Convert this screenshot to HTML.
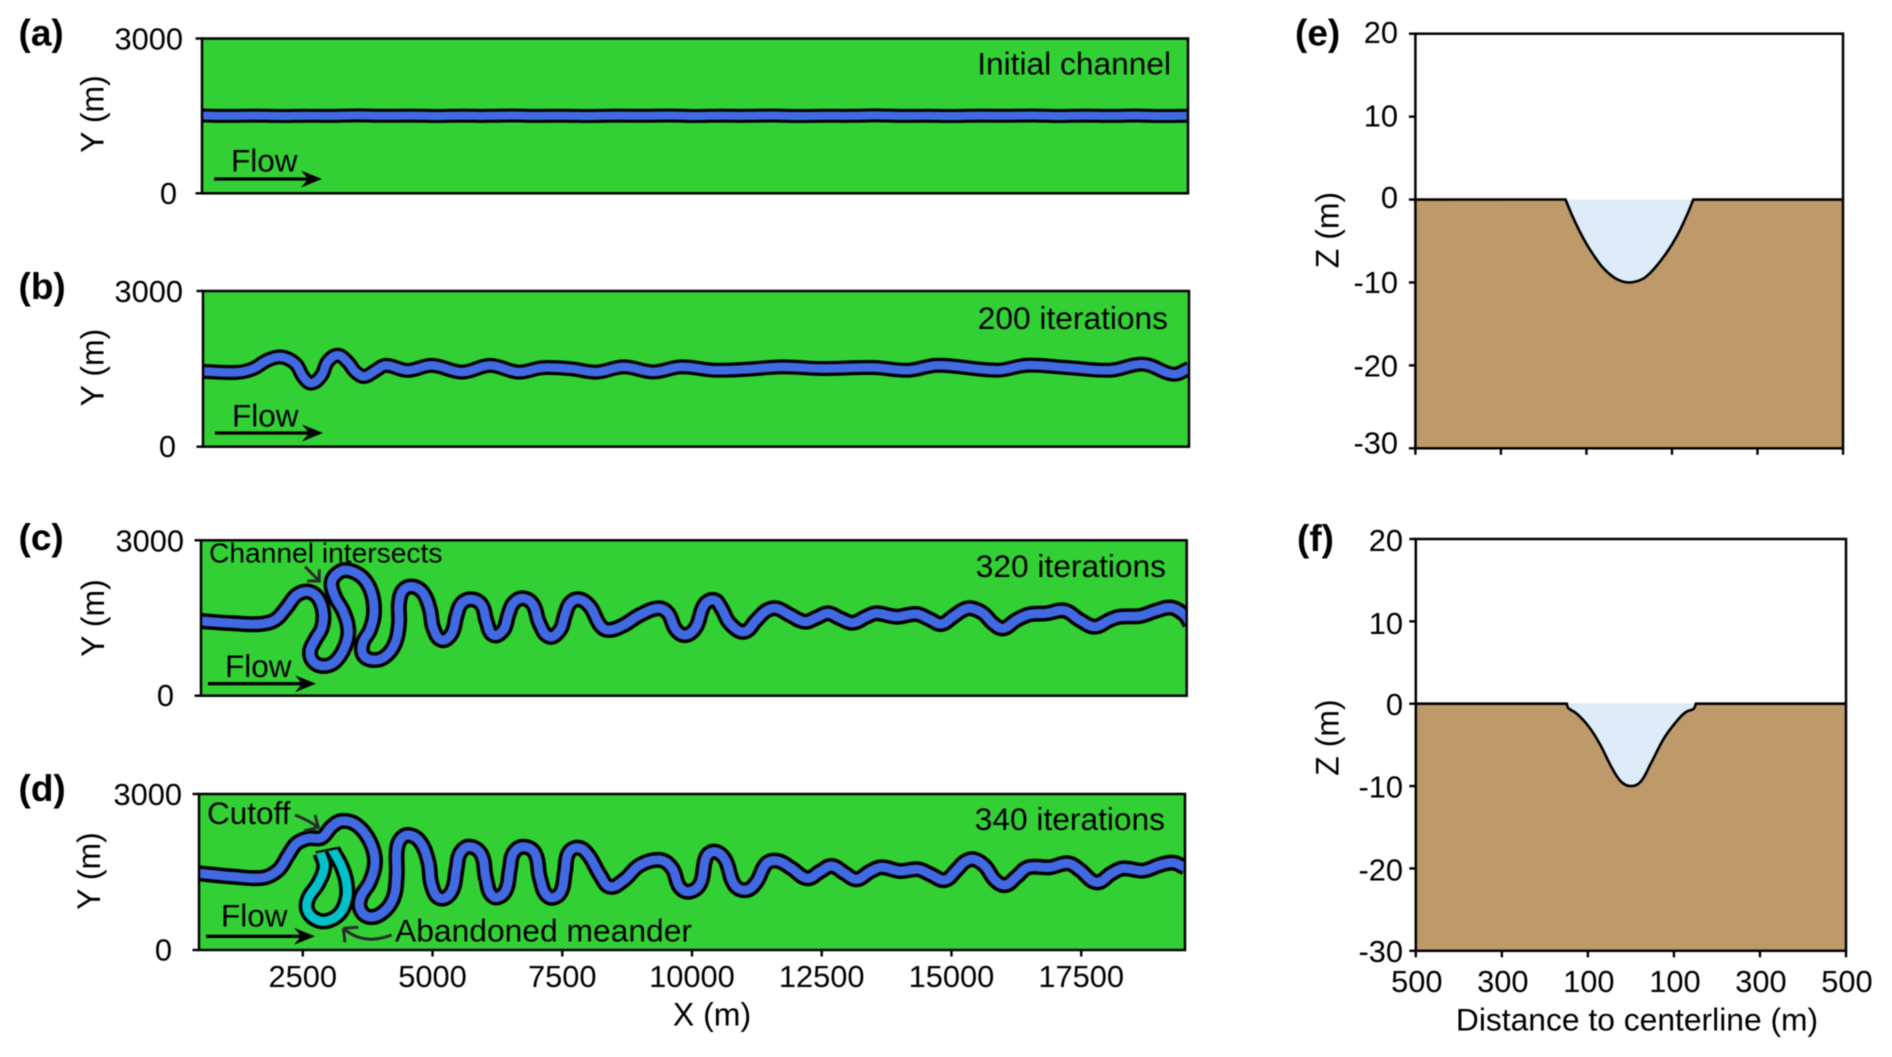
<!DOCTYPE html>
<html lang="en">
<head>
<meta charset="utf-8">
<title>Channel evolution and cross-section profiles</title>
<style>
html,body{margin:0;padding:0;background:#fff;width:1892px;height:1057px;overflow:hidden}
svg{display:block;filter:blur(0.5px)}
text{font-family:"Liberation Sans",Arial,sans-serif;fill:#000}
</style>
</head>
<body>
<svg id="chart" xmlns="http://www.w3.org/2000/svg" width="1892" height="1057" viewBox="0 0 1892 1057">
<defs>
<clipPath id="clip-a"><rect x="202" y="38.5" width="986" height="154.8"/></clipPath>
<clipPath id="clip-b"><rect x="203" y="291" width="986" height="155.7"/></clipPath>
<clipPath id="clip-c"><rect x="201" y="540.3" width="985.7" height="155.4"/></clipPath>
<clipPath id="clip-d"><rect x="199" y="794" width="986" height="156"/></clipPath>
</defs>
<g id="plots"></g>
<g id="notes">
<text x="18.5" y="45.7" font-size="37" font-weight="700">(a)</text>
<text x="18.5" y="299" font-size="37" font-weight="700">(b)</text>
<text x="18.5" y="550" font-size="37" font-weight="700">(c)</text>
<text x="18.5" y="801" font-size="37" font-weight="700">(d)</text>
<text x="1295" y="45.7" font-size="37" font-weight="700">(e)</text>
<text x="1297" y="551" font-size="37" font-weight="700">(f)</text>

<text x="1171" y="74.5" font-size="31.7" text-anchor="end">Initial channel</text>
<text x="1168" y="329" font-size="31.7" text-anchor="end">200 iterations</text>
<text x="1166" y="577" font-size="31.7" text-anchor="end">320 iterations</text>
<text x="1165" y="830" font-size="31.7" text-anchor="end">340 iterations</text>

<text x="231" y="171.7" font-size="31.5">Flow</text>
<text x="232" y="426.7" font-size="31.5">Flow</text>
<text x="225" y="677" font-size="31.5">Flow</text>
<text x="221" y="926.7" font-size="31.5">Flow</text>

<g><path d="M214 179H310" stroke="#000" stroke-width="3.3" fill="none"/><path d="M322 179L301 170.5L308 179L301 187.5Z" fill="#000"/></g>
<g><path d="M215 433H311" stroke="#000" stroke-width="3.3" fill="none"/><path d="M323 433L302 424.5L309 433L302 441.5Z" fill="#000"/></g>
<g><path d="M208 683.7H304" stroke="#000" stroke-width="3.3" fill="none"/><path d="M316 683.7L295 675.2L302 683.7L295 692.2Z" fill="#000"/></g>
<g><path d="M206 936.3H303" stroke="#000" stroke-width="3.3" fill="none"/><path d="M315 936.3L294 927.8L301 936.3L294 944.8Z" fill="#000"/></g>

<text x="209" y="562.7" font-size="28.2">Channel intersects</text>
<path d="M305 566.7L319.3 581M307.3 581H319.3V569.3" fill="none" stroke="#2b2b2b" stroke-width="3"/>
<text x="207" y="824" font-size="31.5">Cutoff</text>
<path d="M295 815Q308 820 318.3 827.3M304 831L318.3 827.3L315 815" fill="none" stroke="#2b2b2b" stroke-width="3"/>
<text x="395" y="941.7" font-size="31.8">Abandoned meander</text>
<path d="M391.7 935Q363 946 343.3 928.3M343.3 928.3L358.3 927.3M343.3 928.3L345 942.3" fill="none" stroke="#2b2b2b" stroke-width="3"/>
</g>
</svg>
<script>
// ---- chart data (metres) ----
const xTickValues = [2500, 5000, 7500, 10000, 12500, 15000, 17500];
const yTickValues = [0, 3000];
const zTickValues = [20, 10, 0, -10, -20, -30];
const distanceTickValues = [-500, -300, -100, 100, 300, 500];
const distanceTickLabels = ["500", "300", "100", "100", "300", "500"];

const channelAX = [500,1000,1500,2000,2500,3000,3500,4000,4500,5000,5500,6000,6500,7000,7500,8000,8500,9000,9500,10000,10500,11000,11500,12000,12500,13000,13500,14000,14500,15000,15500,16000,16500,17000,17500,18000,18500,19000,19500];
const channelAY = [1508,1500,1506,1498,1504,1500,1510,1502,1506,1499,1505,1501,1508,1500,1504,1498,1506,1502,1508,1499,1505,1501,1507,1498,1504,1501,1509,1500,1503,1498,1506,1502,1508,1499,1505,1500,1507,1498,1504];

const channelBX = [500,1158,1468,1739,2009,2280,2435,2590,2784,2900,3093,3287,3442,3612,3829,4022,4448,4912,5493,6035,6577,7041,7583,8086,8606,9178,9711,10359,10968,11654,12416,13406,14092,14663,15806,16377,17139,17977,18625,19197,19500];
const channelBY = [1451,1432,1503,1664,1729,1600,1342,1226,1374,1632,1761,1632,1438,1355,1471,1567,1471,1567,1438,1567,1438,1522,1503,1438,1538,1442,1538,1474,1493,1538,1506,1526,1474,1570,1474,1570,1526,1474,1590,1397,1506];

const channelCX = [481,1124,1638,1927,2139,2344,2569,2762,2858,2826,2698,2601,2665,2858,3083,3276,3340,3244,3083,3019,3180,3372,3629,3790,3835,3758,3616,3629,3822,4047,4240,4317,4317,4400,4593,4786,4914,4979,5139,5332,5428,5525,5717,5910,6007,6135,6328,6424,6520,6713,6906,7022,7214,7420,7516,7613,7793,7998,8191,8342,8613,8961,9309,9503,9658,9851,10045,10199,10393,10532,10693,10969,11207,11400,11592,11849,12138,12363,12588,12813,13070,13327,13519,13905,14290,14547,14772,14996,15189,15350,15575,15767,15960,16217,16474,16795,17148,17437,17726,18015,18208,18593,18915,19204,19460,19560];
const channelCY = [1442,1397,1384,1462,1687,1944,2009,1880,1590,1301,1076,850,657,574,657,947,1269,1622,1912,2202,2395,2414,2266,1976,1590,1269,1011,786,689,754,1011,1397,1783,2041,2105,1976,1655,1301,1076,1204,1558,1783,1861,1751,1429,1172,1269,1558,1783,1880,1751,1397,1140,1269,1558,1783,1861,1719,1365,1268,1346,1558,1687,1590,1268,1172,1333,1751,1848,1687,1397,1236,1461,1642,1687,1558,1429,1506,1590,1494,1410,1526,1590,1526,1577,1474,1384,1526,1655,1687,1590,1397,1300,1461,1571,1590,1642,1461,1333,1461,1526,1539,1642,1700,1558,1400];

const channelDX = [480,1161,1739,2028,2221,2382,2606,2863,3056,3249,3538,3795,3891,3795,3621,3602,3763,4020,4244,4309,4309,4373,4533,4758,4919,4983,5144,5368,5465,5529,5722,5946,6030,6171,6396,6492,6557,6749,6974,7071,7231,7456,7552,7617,7809,8002,8227,8419,8690,8999,9387,9619,9758,9944,10161,10277,10447,10641,10819,11052,11245,11438,11662,11919,12221,12465,12690,12947,13172,13429,13654,14007,14360,14617,14874,15099,15259,15433,15645,15837,16043,16255,16480,16897,17250,17475,17796,18085,18310,18695,19017,19274,19498];
const channelDY = [1476,1411,1391,1539,1827,2052,2148,2160,2372,2481,2404,2084,1699,1314,1026,802,641,705,994,1443,1891,2116,2212,2084,1699,1250,994,1122,1571,1859,1987,1827,1378,1026,1122,1571,1859,1987,1859,1378,1026,1090,1507,1859,1968,1827,1443,1218,1346,1635,1731,1570,1218,1122,1282,1795,1891,1731,1250,1154,1314,1667,1711,1570,1378,1506,1615,1474,1359,1506,1590,1519,1551,1442,1346,1538,1699,1744,1615,1346,1250,1410,1590,1590,1667,1538,1301,1474,1570,1526,1635,1679,1590];

const abandonedX = [2844,2915,2799,2606,2587,2735,2960,3217,3345,3345,3249,3075];
const abandonedY = [1859,1603,1282,994,770,596,558,705,994,1282,1603,1923];

const profileEDistance = [-149,-131,-108,-84,-61,-37,-18,0,18,37,60,87,111,134,150];
const profileEDepth = [0,-2.2,-4.6,-6.65,-8.25,-9.35,-9.85,-10,-9.85,-9.4,-8.25,-6.45,-4.45,-2.0,0];
const profileFDistance = [-149,-146,-126,-99,-72,-44,-22,0,22,46,78,110,128,146,151];
const profileFDepth = [0,-0.5,-1.2,-2.7,-4.9,-7.8,-9.5,-10,-9.5,-7.3,-4.1,-1.9,-1.0,-0.6,0];

// ---- rendering ----
const NS = 'http://www.w3.org/2000/svg';
const plots = document.getElementById('plots');

function make(tag, parent) {
  const el = document.createElementNS(NS, tag);
  parent.appendChild(el);
  return el;
}
function putText(parent, str, x, y, anchor, size) {
  const t = make('text', parent);
  t.setAttribute('x', x);
  t.setAttribute('y', y);
  t.setAttribute('text-anchor', anchor);
  t.setAttribute('font-size', size);
  t.textContent = str;
  return t;
}
function putTick(parent, x1, y1, x2, y2) {
  const l = make('line', parent);
  l.setAttribute('x1', x1);
  l.setAttribute('y1', y1);
  l.setAttribute('x2', x2);
  l.setAttribute('y2', y2);
  l.setAttribute('stroke', '#000');
  l.setAttribute('stroke-width', 2.4);
  return l;
}
function smoothPath(pts) {
  const n = pts.length;
  const tangents = pts.map(function (p, i) {
    const a = pts[Math.max(i - 1, 0)], b = pts[Math.min(i + 1, n - 1)];
    const dx = b[0] - a[0], dy = b[1] - a[1];
    const len = Math.hypot(dx, dy) || 1;
    return [dx / len, dy / len];
  });
  let d = 'M' + pts[0][0].toFixed(1) + ' ' + pts[0][1].toFixed(1);
  for (let i = 0; i < n - 1; i++) {
    const p1 = pts[i], p2 = pts[i + 1];
    const L = Math.hypot(p2[0] - p1[0], p2[1] - p1[1]) * 0.36;
    const c1x = p1[0] + tangents[i][0] * L, c1y = p1[1] + tangents[i][1] * L;
    const c2x = p2[0] - tangents[i + 1][0] * L, c2y = p2[1] - tangents[i + 1][1] * L;
    d += 'C' + c1x.toFixed(1) + ' ' + c1y.toFixed(1) + ' ' + c2x.toFixed(1) + ' ' + c2y.toFixed(1) + ' ' + p2[0].toFixed(1) + ' ' + p2[1].toFixed(1);
  }
  return d;
}
function drawRibbon(group, xs, ys, sx, sy, color, outer, inner) {
  const d = smoothPath(xs.map((v, i) => [sx(v), sy(ys[i])]));
  const edge = make('path', group);
  edge.setAttribute('d', d);
  edge.setAttribute('fill', 'none');
  edge.setAttribute('stroke', '#000');
  edge.setAttribute('stroke-width', outer);
  
  
  const water = make('path', group);
  water.setAttribute('d', d);
  water.setAttribute('fill', 'none');
  water.setAttribute('stroke', color);
  water.setAttribute('stroke-width', inner);
  
  
}

const mapPanels = [
  {id:'a', left:202, right:1188, top:38.5, bottom:193.3, xs:channelAX, ys:channelAY, outer:14, inner:8, label3000:183, label0:177, ylabelX:103.6, ylabelY:114},
  {id:'b', left:203, right:1189, top:291, bottom:446.7, xs:channelBX, ys:channelBY, outer:15, inner:8.5, label3000:183, label0:176, ylabelX:103.6, ylabelY:367.5},
  {id:'c', left:201, right:1186.7, top:540.3, bottom:695.7, xs:channelCX, ys:channelCY, outer:16, inner:9, label3000:184, label0:174, ylabelX:104, ylabelY:618},
  {id:'d', left:199, right:1185, top:794, bottom:950, xs:channelDX, ys:channelDY, outer:16, inner:9, label3000:182, label0:172, ylabelX:100, ylabelY:871}
];

mapPanels.forEach(function (p) {
  const sx = v => p.left + (v - 500) / 19000 * (p.right - p.left);
  const sy = v => p.bottom - v / 3000 * (p.bottom - p.top);
  const g = make('g', plots);
  
  

  const bg = make('rect', g);
  bg.setAttribute('x', p.left);
  bg.setAttribute('y', p.top);
  bg.setAttribute('width', p.right - p.left);
  bg.setAttribute('height', p.bottom - p.top);
  bg.setAttribute('fill', '#33d035');
  
  

  const clip = make('g', g);
  clip.setAttribute('clip-path', 'url(#clip-' + p.id + ')');
  
  
  if (p.id === 'd') {
    drawRibbon(clip, abandonedX, abandonedY, sx, sy, '#02c0c8', 16, 9);
    const seal = make('line', clip);
    seal.setAttribute('x1', sx(abandonedX[0]) - 5);
    seal.setAttribute('y1', sy(abandonedY[0]) - 1);
    seal.setAttribute('x2', sx(abandonedX[abandonedX.length - 1]) + 5);
    seal.setAttribute('y2', sy(abandonedY[abandonedY.length - 1]) - 2);
    seal.setAttribute('stroke', '#000');
    seal.setAttribute('stroke-width', 2.2);
    
    
  }
  drawRibbon(clip, p.xs, p.ys, sx, sy, '#4169e1', p.outer, p.inner);

  const frame = make('rect', g);
  frame.setAttribute('x', p.left);
  frame.setAttribute('y', p.top);
  frame.setAttribute('width', p.right - p.left);
  frame.setAttribute('height', p.bottom - p.top);
  frame.setAttribute('fill', 'none');
  frame.setAttribute('stroke', '#000');
  frame.setAttribute('stroke-width', 2.5);
  
  

  yTickValues.forEach(function (v) {
    const tick = putTick(g, p.left - 6.5, sy(v), p.left, sy(v));
    
    
    const label = putText(g, String(v), v === 0 ? p.label0 : p.label3000, sy(v) + (v === 0 ? 10.5 : 11), 'end', 30.8);
    
    
  });

  const yTitle = putText(g, 'Y (m)', 0, 0, 'middle', 32);
  yTitle.setAttribute('transform', 'translate(' + p.ylabelX + ' ' + p.ylabelY + ') rotate(-90)');
  
  

  if (p.id === 'd') {
    xTickValues.forEach(function (v) {
      const tick = putTick(g, sx(v), p.bottom, sx(v), p.bottom + 6.5);
      
      
      const label = putText(g, String(v), sx(v), 987, 'middle', 30.8);
      
      
    });
    const xTitle = putText(g, 'X (m)', 712, 1025.5, 'middle', 32);
    
    
  }
});

const sectionPanels = [
  {id:'e', left:1415.4, right:1843, top:33.7, bottom:448.3, dist:profileEDistance, depth:profileEDepth, labelRight:1398, ztitleY:230, showX:false, dy:{'20':9.5,'10':10,'0':8.5,'-10':10.5,'-20':11,'-30':5}},
  {id:'f', left:1415.8, right:1846, top:539, bottom:950.8, dist:profileFDistance, depth:profileFDepth, labelRight:1403, ztitleY:737.5, showX:true, dy:{'20':12,'10':12.5,'0':11.5,'-10':11.5,'-20':12,'-30':11}}
];

sectionPanels.forEach(function (p) {
  const sx = v => p.left + (v + 500) / 1000 * (p.right - p.left);
  const sz = v => p.bottom - (v + 30) / 50 * (p.bottom - p.top);
  const g = make('g', plots);
  
  

  const ground = make('rect', g);
  ground.setAttribute('x', p.left);
  ground.setAttribute('y', sz(0));
  ground.setAttribute('width', p.right - p.left);
  ground.setAttribute('height', p.bottom - sz(0));
  ground.setAttribute('fill', '#be9a6b');
  
  

  const curve = smoothPath(p.dist.map((v, i) => [sx(v), sz(p.depth[i])]));
  const water = make('path', g);
  water.setAttribute('d', curve + 'Z');
  water.setAttribute('fill', '#deebf8');
  
  

  const bed = make('path', g);
  bed.setAttribute('d', 'M' + sx(-500) + ' ' + sz(0) + 'L' + curve.slice(1) + 'L' + sx(500) + ' ' + sz(0));
  bed.setAttribute('fill', 'none');
  bed.setAttribute('stroke', '#000');
  bed.setAttribute('stroke-width', 2.6);
  
  

  const frame = make('rect', g);
  frame.setAttribute('x', p.left);
  frame.setAttribute('y', p.top);
  frame.setAttribute('width', p.right - p.left);
  frame.setAttribute('height', p.bottom - p.top);
  frame.setAttribute('fill', 'none');
  frame.setAttribute('stroke', '#000');
  frame.setAttribute('stroke-width', 2.5);
  
  

  zTickValues.forEach(function (v) {
    const tick = putTick(g, p.left - 6.5, sz(v), p.left, sz(v));
    
    
    const label = putText(g, String(v), p.labelRight, sz(v) + p.dy[String(v)], 'end', 30.8);
    
    
  });

  distanceTickValues.forEach(function (v, i) {
    const tick = putTick(g, sx(v), p.bottom, sx(v), p.bottom + 6.5);
    
    
    if (p.showX) {
      const label = putText(g, distanceTickLabels[i], sx(v) + 1, 992, 'middle', 30.8);
      
      
    }
  });

  const zTitle = putText(g, 'Z (m)', 0, 0, 'middle', 32);
  zTitle.setAttribute('transform', 'translate(1338.5 ' + p.ztitleY + ') rotate(-90)');
  
  

  if (p.showX) {
    const dTitle = putText(g, 'Distance to centerline (m)', 1637, 1030.5, 'middle', 31.8);
    
    
  }
});
</script>
</body>
</html>
